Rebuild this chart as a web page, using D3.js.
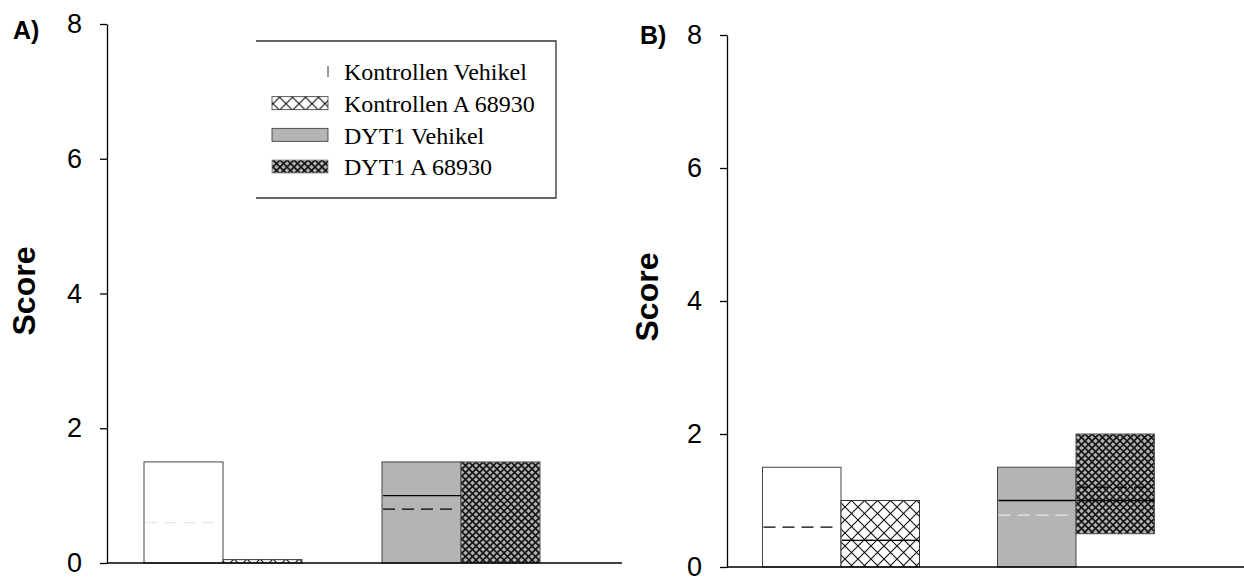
<!DOCTYPE html>
<html>
<head>
<meta charset="utf-8">
<script src="https://cdn.jsdelivr.net/npm/d3@7"></script>
<style>
  html, body { margin: 0; padding: 0; background: #fff; }
  svg { display: block; }
</style>
</head>
<body>
<svg id="chart" width="1244" height="577"></svg>
<script>
// ---------------- data ----------------
const groups = ["Kontrollen", "DYT1"];
const treatments = ["Vehikel", "A 68930"];
const seriesLabels = ["Kontrollen Vehikel", "Kontrollen A 68930", "DYT1 Vehikel", "DYT1 A 68930"];
const yTicks = [0, 2, 4, 6, 8];

// order of boxes: Kontrollen Vehikel, Kontrollen A 68930, DYT1 Vehikel, DYT1 A 68930
const lowA    = [0, 0, 0, 0];
const highA   = [1.5, 0.05, 1.5, 1.5];
const medianA = [null, null, 1.0, null];
const meanA   = [null, null, 0.8, null];
const faintA  = [0.6, null, null, null];

const lowB    = [0, 0, 0, 0.5];
const highB   = [1.5, 1.0, 1.5, 2.0];
const medianB = [null, 0.4, 1.0, 1.0];
const meanB   = [0.6, 0.4, null, 1.2];
const faintB  = [null, null, 0.78, null];

// ---------------- drawing ----------------
const svg = d3.select("#chart");
const defs = svg.append("defs");

// open crosshatch
const p1 = defs.append("pattern").attr("id", "crossOpen")
  .attr("patternUnits", "userSpaceOnUse").attr("width", 13).attr("height", 13);
p1.append("rect").attr("width", 13).attr("height", 13).attr("fill", "#fff");
p1.append("path").attr("d", "M0,0L13,13M13,0L0,13M-1,12L1,14M12,-1L14,1")
  .attr("stroke", "#111").attr("stroke-width", 1.1);

// dense dark crosshatch
const p2 = defs.append("pattern").attr("id", "crossDense")
  .attr("patternUnits", "userSpaceOnUse").attr("width", 7).attr("height", 7);
p2.append("rect").attr("width", 7).attr("height", 7).attr("fill", "#b0b0b0");
p2.append("path").attr("d", "M0,0L7,7M7,0L0,7")
  .attr("stroke", "#141414").attr("stroke-width", 1.6);

const fills = ["#ffffff", "url(#crossOpen)", "#b4b4b4", "url(#crossDense)"];
const strokes = ["#444", "#333", "#444", "#555"];

function panel(cfg) {
  const g = svg.append("g");
  const y = d3.scaleLinear().domain([0, 8]).range([cfg.y0, cfg.y1]);
  const xg = d3.scalePoint().domain(groups).range([cfg.x0 + cfg.c0, cfg.x0 + cfg.c0 + cfg.step]);
  const xt = d3.scaleBand().domain(treatments).range([-cfg.bw, cfg.bw]).padding(0);

  const items = seriesLabels.map((s, i) => ({
    g: groups[Math.floor(i / 2)], t: treatments[i % 2], i,
    lo: cfg.low[i], hi: cfg.high[i], med: cfg.median[i], mean: cfg.mean[i], faint: cfg.faint[i]
  }));

  // boxes
  g.selectAll("rect.box").data(items).join("rect")
    .attr("class", "box")
    .attr("x", d => xg(d.g) + xt(d.t))
    .attr("width", xt.bandwidth())
    .attr("y", d => y(d.hi))
    .attr("height", d => y(d.lo) - y(d.hi))
    .attr("fill", d => fills[d.i])
    .attr("stroke", d => strokes[d.i])
    .attr("stroke-width", 1);

  const lineSel = (key, cls, stroke, dash) => {
    g.selectAll("line." + cls).data(items.filter(d => d[key] != null)).join("line")
      .attr("class", cls)
      .attr("x1", d => xg(d.g) + xt(d.t) + 1)
      .attr("x2", d => xg(d.g) + xt(d.t) + xt.bandwidth() - (dash ? 4 : 0))
      .attr("y1", d => y(d[key])).attr("y2", d => y(d[key]))
      .attr("stroke", stroke).attr("stroke-width", 1.3)
      .attr("stroke-dasharray", dash);
  };
  lineSel("faint", "faint", "#e6e6e6", "12,7");
  lineSel("mean", "mean", "#000", "12,7");
  lineSel("med", "med", "#000", null);

  // y axis
  const ax = g.append("g").attr("transform", `translate(${cfg.x0},0)`)
    .call(d3.axisLeft(y).tickValues(yTicks).tickSize(7).tickSizeOuter(0).tickPadding(18));
  ax.select(".domain").attr("stroke", "#000").attr("stroke-width", 1.3);
  ax.selectAll(".tick line").attr("stroke", "#000").attr("stroke-width", 1.3);
  ax.selectAll(".tick text").attr("font-family", "'Liberation Sans', Arial, sans-serif")
    .attr("font-size", 27).attr("fill", "#000");

  // x axis line
  g.append("line")
    .attr("x1", cfg.x0).attr("x2", cfg.x2)
    .attr("y1", y(0)).attr("y2", y(0))
    .attr("stroke", "#000").attr("stroke-width", 1.3);

  // y title
  g.append("text")
    .attr("transform", `translate(${cfg.tx},${cfg.ty}) rotate(-90)`)
    .attr("text-anchor", "middle").attr("dy", "0.35em")
    .attr("font-family", "'Liberation Sans', Arial, sans-serif")
    .attr("font-weight", "bold").attr("font-size", 32)
    .text("Score");

  // panel label
  g.append("text")
    .attr("x", cfg.lx).attr("y", cfg.ly)
    .attr("font-family", "'Liberation Sans', Arial, sans-serif")
    .attr("font-weight", "bold").attr("font-size", 25)
    .text(cfg.label);
  return g;
}

panel({ label: "A)", lx: 13, ly: 39, x0: 107, x2: 622, y0: 563, y1: 24, c0: 116, step: 238, bw: 79,
        tx: 24, ty: 291, low: lowA, high: highA, median: medianA, mean: meanA, faint: faintA });
panel({ label: "B)", lx: 640, ly: 44, x0: 727, x2: 1244, y0: 567, y1: 35, c0: 114, step: 235, bw: 78.5,
        tx: 647, ty: 297, low: lowB, high: highB, median: medianB, mean: meanB, faint: faintB });

// legend
const lg = svg.append("g");
lg.append("path").attr("d", "M256,41H556V198H256")
  .attr("fill", "none").attr("stroke", "#333").attr("stroke-width", 1.3);
const rowY = d3.scalePoint().domain(seriesLabels).range([72, 167]);
const rows = lg.selectAll("g.row").data(seriesLabels).join("g").attr("class", "row")
  .attr("transform", d => `translate(0,${rowY(d)})`);
rows.append("rect")
  .attr("x", 272).attr("y", -7).attr("width", 56).attr("height", 13)
  .attr("fill", (d, i) => fills[i])
  .attr("stroke", (d, i) => i === 0 ? "none" : (i === 3 ? "#888" : "#333"))
  .attr("stroke-width", 0.8);
rows.filter((d, i) => i === 0).append("line")
  .attr("x1", 328).attr("x2", 328).attr("y1", -6).attr("y2", 5)
  .attr("stroke", "#333").attr("stroke-width", 1);
rows.append("text")
  .attr("x", 344).attr("dy", "0.35em")
  .attr("font-family", "'Liberation Serif', 'Times New Roman', serif")
  .attr("font-size", 24).attr("fill", "#000")
  .text(d => d);
</script>
</body>
</html>
